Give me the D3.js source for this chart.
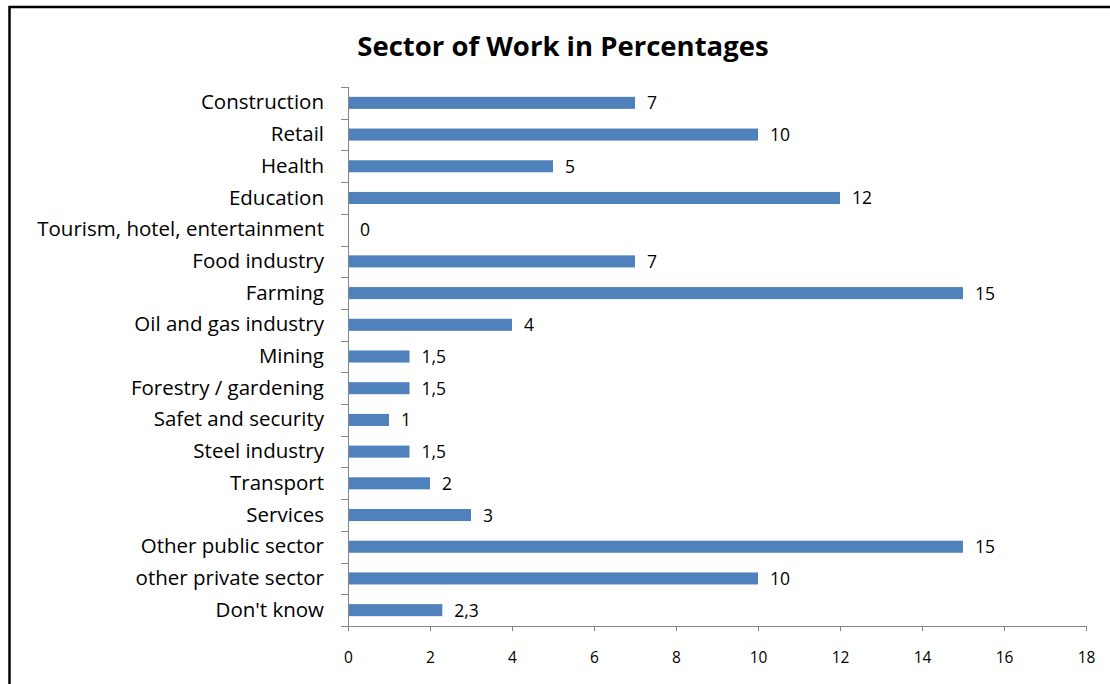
<!DOCTYPE html>
<html>
<head>
<meta charset="utf-8">
<script src="https://cdn.jsdelivr.net/npm/d3@7/dist/d3.min.js"></script>
<style>
  html, body { margin: 0; padding: 0; background: #fff; }
  svg { display: block; }
  text { font-family: "Open Sans", Lato, sans-serif; fill: #000; }
</style>
</head>
<body>
<script>
// Sector names, top to bottom
const sectors = [
  "Construction", "Retail", "Health", "Education",
  "Tourism, hotel, entertainment", "Food industry", "Farming",
  "Oil and gas industry", "Mining", "Forestry / gardening",
  "Safet and security", "Steel industry", "Transport", "Services",
  "Other public sector", "other private sector", "Don't know"
];
// Share of respondents per sector (%)
const shares = [7, 10, 5, 12, 0, 7, 15, 4, 1.5, 1.5, 1, 1.5, 2, 3, 15, 10, 2.3];
// Value axis ticks
const xTicks = [0, 2, 4, 6, 8, 10, 12, 14, 16, 18];
const chartTitle = "Sector of Work in Percentages";

const W = 1110, H = 684;
const plot = { left: 348, right: 1086, top: 87, bottom: 626 };
const font = "'Open Sans', Lato, sans-serif";

const svg = d3.select("body").append("svg").attr("width", W).attr("height", H);

// outer frame (continues past the right and bottom edge)
svg.append("rect")
  .attr("x", 9.5).attr("y", 7).attr("width", W + 20).attr("height", H + 20)
  .attr("fill", "none").attr("stroke", "#000").attr("stroke-width", 2.5);

svg.append("text")
  .attr("x", 563).attr("y", 56)
  .attr("text-anchor", "middle")
  .style("font-size", "27.5px").style("font-weight", "bold")
  .text(chartTitle);

const x = d3.scaleLinear().domain([0, 18]).range([plot.left, plot.right]);
const y = d3.scaleBand().domain(sectors).range([plot.top, plot.bottom])
  .paddingInner(0.62).paddingOuter(0.31);
const bounds = d3.scaleLinear().domain([0, sectors.length]).range([plot.top, plot.bottom]);

const axisColor = "#868686";

// bars
svg.append("g").selectAll("rect").data(sectors).join("rect")
  .attr("x", x(0))
  .attr("y", d => y(d))
  .attr("width", (d, i) => x(shares[i]) - x(0))
  .attr("height", y.bandwidth())
  .attr("fill", "#4F81BD");

// value labels
const fmt = v => String(v).replace(".", ",");
svg.append("g").selectAll("text").data(sectors).join("text")
  .attr("x", (d, i) => x(shares[i]) + 12)
  .attr("y", d => y(d) + y.bandwidth() / 2)
  .attr("dy", "0.37em")
  .style("font-size", "17.5px")
  .text((d, i) => fmt(shares[i]));

// category axis
const yAxis = svg.append("g").attr("transform", `translate(${plot.left},0)`)
  .call(d3.axisLeft(y).tickSize(0).tickPadding(24));
yAxis.select(".domain").remove();
yAxis.selectAll("text").style("font-size", "20.5px").style("font-family", font).attr("fill", "#000");

// category separators on the axis
svg.append("g").selectAll("line").data(d3.range(sectors.length + 1)).join("line")
  .attr("x1", plot.left - 7).attr("x2", plot.left)
  .attr("y1", d => Math.round(bounds(d)) + 0.5).attr("y2", d => Math.round(bounds(d)) + 0.5)
  .attr("stroke", axisColor);
svg.append("line")
  .attr("x1", plot.left + 0.5).attr("x2", plot.left + 0.5)
  .attr("y1", plot.top).attr("y2", plot.bottom)
  .attr("stroke", axisColor);

// value axis
const xAxis = svg.append("g").attr("transform", `translate(0,${plot.bottom})`)
  .call(d3.axisBottom(x).tickValues(xTicks).tickSize(5).tickPadding(21).tickSizeOuter(0));
xAxis.select(".domain").attr("stroke", axisColor);
xAxis.selectAll(".tick line").attr("stroke", axisColor);
xAxis.selectAll("text").style("font-size", "15.5px").style("font-family", font).attr("fill", "#000");
</script>
</body>
</html>
